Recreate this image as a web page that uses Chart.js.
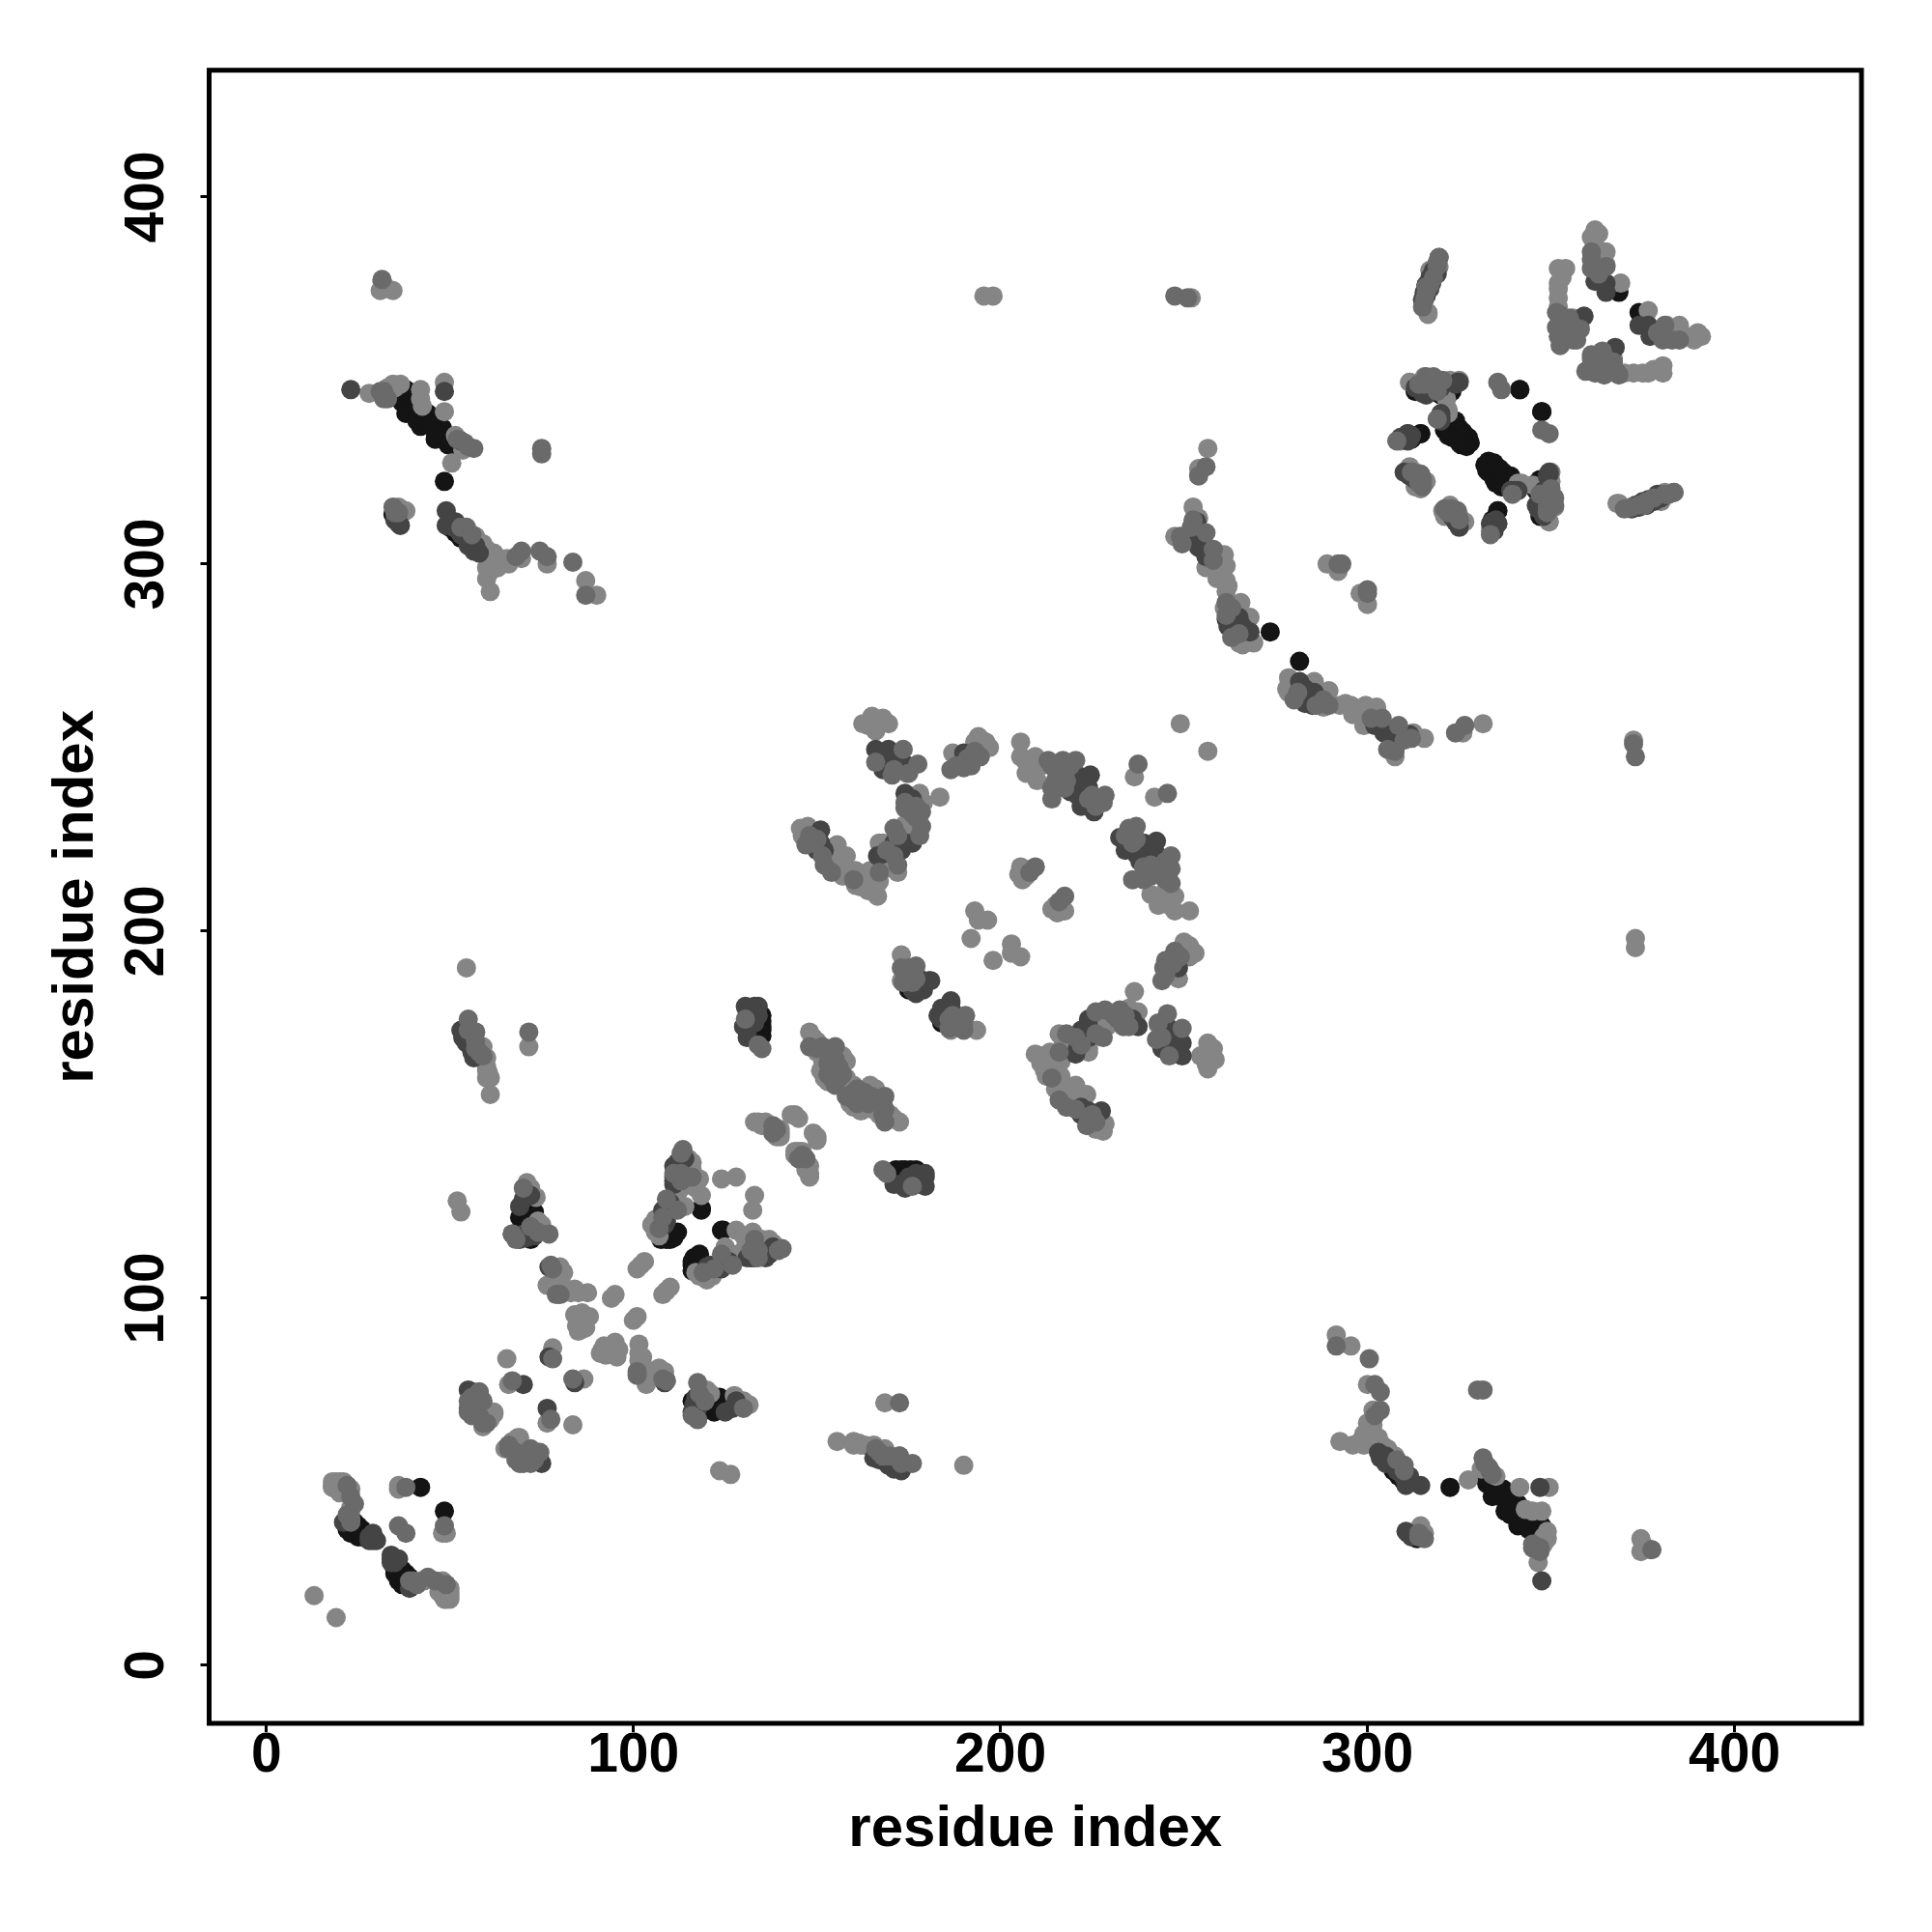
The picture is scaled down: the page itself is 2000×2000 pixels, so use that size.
<!DOCTYPE html>
<html>
<head>
<meta charset="utf-8">
<style>html,body{margin:0;padding:0;background:#fff}canvas{display:block}</style>
<script src="https://cdn.jsdelivr.net/npm/chart.js@4"></script>
</head>
<body>
<canvas id="c" width="2000" height="2000"></canvas>
<script>
// Symmetric contact map: each pair [i, j] with i < j is drawn at (i, j) and (j, i).
const contactsLight = [
[13,19],[18,49],[19,48],[20,49],[22,49],[23,48],[23,43],[36,49],[36,48],[20,47],[21,48],[22,47],[21,49],[23,42],[20,48],[18,48.5],[19,50],[20,50],[21,50],[18,50],[22,48.5],
[59,70],[62,69],[59,65],[62,68.5],[66,76.5],[65.5,83.5],[78,86.5],[60,69],[61,67],[59,68],
[80,108.5],[80,105],[76.5,103.5],[84,102.5],[87.5,101.5],[83,101.5],[84.5,92.5],[88,95],[84,95.5],[86,93.5],[81,107],[81,103],[82,102],[79,103],[85,101.5],[85,94],[86,91.5],[87,94],[85,91],[86,96],[87,92],
[95,101],[94,100],[101,108],[102,109],[103,110],[71,131.5],[73.5,127.5],[72,118],[75,120],[52,126.5],[53,123.5],[72,130],[71,129],[74,121],[70.5,129],[73,119],[74,120],
[113.5,138],[116,137],[118,132.5],[112,128.5],[118.5,128],[112,124.5],[106,121.5],[107,119],[128,133],[124,132.5],[115,135],[116,135],[112,126],[114,125],[113,130],[117,130],[105,120],[106,118],[107,117],[114,136],[115,138],[112,131],
[134,148],[136,148],[144,150],[140,145],[139,144],[133,148],[135,147],[137,147],[140,146],[140,144],[145,149],[143,150],
[148,172.5],[151.5,165],[158,164.5],[151,162],[153,163],[150,170],[150,167],[152,167],[153,165],[152,163],[152,161],[156,166],[157,166],[155,164],[153,159],[152,160],[149,171],[158,160],
[173,193.5],[173,186.5],[175,188],[176,188],
[193,205.5],[196.5,203],[194,203],[192,198],[205.5,217.5],[206,214],[205,215.5],[207,215],[206,216],
[162.5,256.5],[165,258.5],[169.5,256.5],[166,254.5],[167,256.5],[174.5,243],[178,237.5],[183.5,236.5],[175,228],[167,224],[170.5,217],[168,258],[166,256],[164,256],[176,236],[178,236],[179,235],[174,229],[176,229],[177,227],[172,216],[169,219],[168,224],
[145.5,228],[147.5,228.5],[155.5,223.5],[158,220.5],[155.5,217],[160.5,216.5],[164.5,216.5],[160.5,212.5],[167,213.5],[166.5,209.5],[155,220],[146,226],[147,225],[149,226],[153,222],[154,221],[156,220],[157,218],[158,217],[159,215],[161,215],[162,215],[163,214],[165,214],[162,212],[164,211],[166,211],[157,215],
[187,248.5],[194,253],[196,251.5],[193,251.5],[205.5,251.5],[205.5,247.5],[209.5,247.5],[209.5,243.5],[225.5,234],[236.5,242],[195,252],[194,250],[197,250],[195,250],[207,246],[207,243],[211,245],[210,241],
[249,256.5],[60.5,161.5],[61,155.5],[54.5,190],[57,172.5],[59,168.5],[60,165.5],[71.5,168.5],[60,163],[60,160],[61,160],[60,162],
[31.5,377],[31,374.5],[34.5,374.5],[28,346.5],[34.5,349],[36.5,349],[42,347.5],[42,345],[42.5,343],[48.5,349.5],[48.5,341.5],[51.5,335],[53.5,331],[50.5,327.5],[32,376],[33,375],[32,375],[34,348],[33,348],[35,348],
[38,314.5],[36,315.5],[52.5,309],[57,307.5],[59,305.5],[62,303],[60.5,301.5],[65.5,301.5],[69.5,301.5],[76.5,300],[87,295.5],[90,291.5],[60,296],[61,292.5],[63,299],[58,304],[58,306],[60,304],[61,303],[59,303],[60,299],[63,301],[61,298],[62,302],[64,300],[66,300],
[195.5,373],[198,373],[252,372.5],[256.5,331.5],[254,326],[252.5,315.5],[254,312.5],[247.5,307.5],[259,303],[261,302.5],[258.5,300],[261.5,299.5],[261.5,295.5],[261.5,292.5],[265.5,289.5],[268,285.5],[269,278.5],[265,278.5],[259,299.5],[260,297],[262,294],[259,296],[261,288],[267,279],[266,278],[256,299],
[289,300],[292,298],[319.5,381],[317,380],[315.5,372],[316.5,368.5],[311.5,349.5],[315.5,351],[322,342],
[309,333.5],[311.5,326],[315.5,322.5],[314.5,321],[322.5,316],[320.5,314.5],[326.5,311.5],[341,322],[345,321.5],[350,322.5],[349.5,311.5],[368,316.5],[380.5,319],[379,318],[381,318.5],[382,319],[313,325],[313,321],[350,325],
[362,391],[361,389],[362,387],[365,385],[365,381.5],[354,380.5],[352,380.5],[352,376.5],[352,372.5],[352.5,367.5],[352.5,364],[356,367],[369,376.5],[353,378],[352,375],[352,370],[353,362],[363,384],[364,382],[362,386],[363,390]
];
const contactsMid = [
[23,46],[22,41],[38,48.5],[36,38],[58,74.5],[55,70],[59,66],[58,71.5],[58,74],[67,77.5],[78,83.5],[24,44],[23,39],[22,49],[23,40],
[57,72],[56,73],[55,72],[56,68],[60,66],[56,71],[55,69],[56,70],[57,71],[56,72],[58,68],[59,72],
[80,101],[109,77.5],[72,119.5],[77,117.5],[67,117.5],[113,139.5],[116,133],[113.5,140.5],[113,132],[124,112],[119,107],[78,108],[79,101],[70,130],[68,116],[74,118],[109,127],[108,122],[111,134],[113,134],
[139,146],[138,145],[138,147],[148,168.5],[151.5,168.5],[155,168.5],[155,162.5],[154,160],[173,190],[177,190.5],[176,186],[186,173.5],[150,168],[153,168],[154,166],[156,163],[153,164],[153,161],[156,160],[157,161],[155,158],[155,165],[174,188],[175,190],[174,189],[177,187],[175,187],
[209.5,217.5],[130.5,176],[135,168],[134,169],[208,216],[166,246],[173.5,249.5],[177.5,245.5],[170.5,242.5],[174,233.5],[178.5,232.5],[171,228],[178.5,228.5],[171,220.5],[147,223.5],[151.5,220.5],[167,216],[175,243],[171,244],[174,235],[176,232],[177,234],[177,231],[178,226],[172,226],[172,218],[169,222],[149,224],[150,225],[152,218],[154,216],[160,214],[148,226],
[194.5,247.5],[186.5,244],[190,244.5],[213,246.5],[217,246.5],[220.5,246.5],[214,239],[217.5,239],[225,237],[228.5,237],[237.5,245.5],[193,249],[191,247],[188,245],[192,245],[214,245],[215,244],[219,245],[218,241],[215,241],[214,236],[228,235],[226,234],[224,236],
[55,176],[57,172.5],[71.5,172.5],[32,347],[56.5,331.5],[75,331.5],[75,330],[34.5,315.5],[54.5,310],[69.5,303.5],[74.5,303.5],[76.5,302],[83.5,300.5],[87,291.5],[55,173],[57,170],[58,167],[59,166],[57,168],[31.5,377.5],[31,347],[32,345],[33,345],[52,334],[54,333],[55,332],[35,314],[36,314],[53,310],[56,308],[68,302],
[247.5,373],[251,372.5],[256,326.5],[254,324],[252.5,312],[256,308.5],[249,307.5],[249.5,305.5],[261.5,289.5],[261.5,286],[265,281],[292,300],[293,300],[258,301],[263,288],[263,280],[252,310],[258,304],
[319.5,383.5],[316,375.5],[320.5,350],[315.5,349],[335.5,349.5],[336.5,347.5],[319,339.5],[314.5,324],[324.5,314.5],[350,319.5],[351,316],[349,314],[333.5,308],[372,315.5],[383.5,319.5],[318,350],[318,349],[319,347],[350,317],[351,318],[319,381],[319,382],[317,376],[316,374],[318,378],[315,321],[323,315],[322,314],[325,312],[370,315],
[361,383],[361,380.5],[363,379],[351.5,368.5],[351.5,364.5],[356.5,364.5],[352.5,359.5],[356,361],[365,381],[363.5,356.5],[361,385],[354,366],[355,363],[358,364],[352,362],[355,367],[357,361]
];
const contactsDark = [
[21,39],[28,34],[30,34],[29,34],[56,74.5],[70,76.5],[77,84],[77,108.5],[70,127],[67,117.5],[70,117.5],[111,136],[111,133],[109,124.5],[109,121],[108.5,120],[112,136],[55,75],[28,35],[29,36],
[72,128],[69,116],[71,116.5],[73,117],[69,125],[112,135],[111,131],[112,132],[114,138],[110,126],[108,120],[108,124],[111,132],[112,137],[113,137],
[130.5,179.5],[133,179.5],[134,179.5],[131,172.5],[180.5,186.5],[177,183],[181,186.5],[131,178],[132,177],[134,177],[133,175],[130,174],[131,176],[131,171],[154,161],[155,161],[178,185],[178,187],[179,184],[176,184],
[166,249.5],[169.5,249.5],[170,245.5],[174,245.5],[174,237.5],[171,224],[174,224],[166.5,220.5],[151,227.5],[151,224],[190,248.5],[217,243],[221,242.5],[224.5,242.5],[221,239],[221,237],[225.5,232.5],[167,248],[168,248],[170,247],[172,248],[168,244],[169,247],[172,246],[175,236],[176,236],[172,223],[173,222],[176,224],[168,221],[150,222],[152,222],[191,247],
[218,244],[219,242],[222,240],[222,237],[220,240],[221,241],[223,238],[224,239],[219,238],[226,235],[222,234],
[53,173],[54.5,169.5],[56.5,165.5],[23,347.5],[48.5,347],[53,333.5],[36.5,310.5],[49,314.5],[49,310.5],[51.5,311.5],[55,306.5],[56.5,303.5],[53.5,171],[55,171],[56,167],[56,169],[35,312],[36,311],[50,312],[51,310],[52,310],[53,308],[54,308],[55,305],[57,305],[58,303],
[253.5,307.5],[254,304.5],[256,303],[261.5,285],[265,285.5],[268,281.5],[255,306],[257,304],[262,283],[264,283],[266,283],[256,302],[254,308],[253,310],[253.5,311.5],
[319,379],[317.5,377],[315.5,373.5],[315.5,347],[324.5,349.5],[311.5,334],[311,335.5],[311.5,324],[324.5,311],[339,320],[349,324],[346.5,315],[333.5,311],[335.5,311],[374,315.5],[376.5,317.5],[378.5,318],[313,348],[316,346],[317,348],[325,349.5],[340,320],[341,320],[348,320],[347,316],[349,318],[372,315],[373,316],[375,317],[377,317],[316,376],[317,378],[318,380],[312,325],[313,323],[323,313],[325,310],[334,310],[335,312],[334.5,309],
[359,367.5],[365,376.5],[365,374],[352,368],[356,363],[362,377]
];
const contactsBlack = [
[22,37],[24,39],[26,37],[25,35],[24,37],[23,36],[42,48.5],[23,38],[25,38],[27,36],[25,37],[24,38],[26,35],
[69.5,123],[73,123.5],[71,120],[72,121],[71,125],[72,124],[69,122],[70,119],[71,118],[72,116],
[118.5,124.5],[111,118],[108,118],[109,116],[110,117],[108.5,117],[124,118.5],[111,117],[109,118],[110,116],[111,116.5],[112,118],[107.5,116],
[135,175.5],[135,171.5],[175,184],[135,174],[135,173],[135,177],[176,185],[170,246],
[38,347.5],[36,346],[38,344.5],[38,341],[44,341],[42,337.5],[44,338],[48,337],[47,335],[49.5,332.5],[48.5,322.5],[34.5,313.5],[51.5,308.5],[53,307],[39,345],[40,342],[37,344],[39,341],[41,339],[43,339],[45,338],[46,336],[46,334],[48,335],[50,333],[51,332],[49,334],[52,332],[40,343],[38,346],[37,347],[36,312],[50,310],
[273.5,281.5],[322.5,348],[321,347],[323,347],[322,346],[321.5,340],[323.5,338.5],[322.5,336],[325,337],[327.5,334.5],[325,333],[326.5,332.5],[314.5,335.5],[324,339],[326,336],[328,333],[323,335],[325,335],[321,341],
[333.5,327],[332.5,325.5],[335.5,325.5],[334.5,323],[338,323.5],[336.5,321],[347,321.5],[335.5,314.5],[341.5,347.5],[347.5,341.5],[376,316],[374,316],[368,375.5],[368.5,374],[333,326],[334,326],[336,324],[337,322],[338,321],[339,321],[335,322],[332,327],[346,320],[347,318],[348,323],[347,313],[334,312]
];
const tickValues = [0,100,200,300,400];
const axisTitle = "residue index";
const FONT = '"Liberation Sans"';

function both(pairs){
  const out = [];
  for (const [i,j] of pairs){ out.push({x:i,y:j}); out.push({x:j,y:i}); }
  return out;
}
function set(name,pairs,color){
  return {label:name,data:both(pairs),backgroundColor:color,borderWidth:0,pointRadius:10,pointHoverRadius:10};
}
const frame = {id:'frame',afterDraw(ch){
  const a=ch.chartArea,c=ch.ctx;c.save();c.strokeStyle='#000';c.lineWidth=5;
  c.strokeRect(a.left,a.top,a.right-a.left,a.bottom-a.top);c.restore();
}};
function axis(min,max,isY){
  return {
    type:'linear',min,max,
    afterBuildTicks(s){s.ticks=tickValues.map(v=>({value:v}));},
    afterFit(s){ if(isY) s.width=216.5; else s.height=216; },
    border:{display:false},
    grid:{display:true,drawOnChartArea:false,drawTicks:true,tickLength:9,tickWidth:3,tickColor:'#000'},
    ticks:{
      autoSkip:false,includeBounds:false,color:'#000',
      font:{family:FONT,weight:'bold',size:57},
      padding:isY?7:-9,
      minRotation:isY?90:0,maxRotation:isY?90:0,
      crossAlign:isY?'center':'near',
      callback:v=>String(v)
    },
    title:{display:true,text:axisTitle,color:'#000',font:{family:FONT,weight:'bold',size:60},
      padding:isY?{top:43,bottom:0}:{top:0,bottom:70}}
  };
}
new Chart(document.getElementById('c'),{
  type:'scatter',
  data:{datasets:[
    set('mid',contactsMid,'#6a6a6a'),
    set('dark',contactsDark,'#444444'),
    set('light',contactsLight,'#858585'),
    set('black',contactsBlack,'#141414')
  ]},
  options:{
    responsive:false,animation:false,
    layout:{padding:{top:72.7,right:73,left:0,bottom:0}},
    plugins:{legend:{display:false},tooltip:{enabled:false}},
    scales:{x:axis(-15.6,434.6,false),y:axis(-15.8,434.5,true)}
  },
  plugins:[frame]
});
</script>
</body>
</html>
